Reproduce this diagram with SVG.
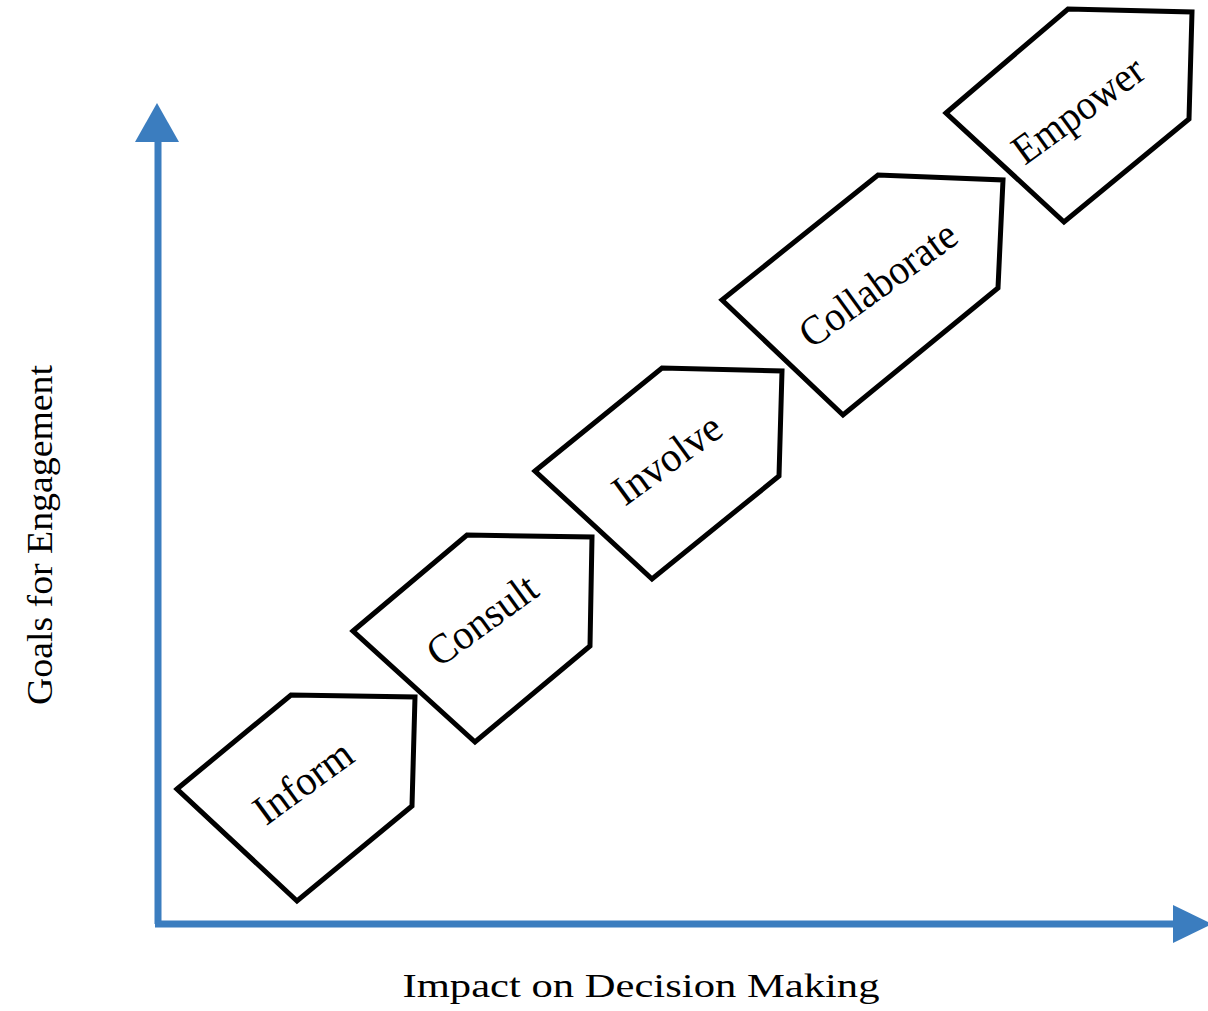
<svg xmlns="http://www.w3.org/2000/svg" width="1208" height="1011" viewBox="0 0 1208 1011">
<style>
.stage{fill:#fff;stroke:#000;stroke-width:5;stroke-linejoin:miter}
.lbl{font-family:"Liberation Serif","Times New Roman",serif;font-size:42px;fill:#000;text-anchor:middle;dominant-baseline:central}
.ax{stroke:#3b7dbf;stroke-width:7;fill:none}
.axt{font-family:"Liberation Serif","Times New Roman",serif;fill:#000;text-anchor:middle}
</style>
<rect width="1208" height="1011" fill="#fff"/>
<g id="axes">
<line class="ax" x1="158" y1="138" x2="158" y2="924"/>
<line class="ax" x1="155" y1="924" x2="1176" y2="924"/>
<polygon points="157,103 135,142 179,142" fill="#3b7dbf"/>
<polygon points="1212,924 1173,905 1173,943" fill="#3b7dbf"/>
</g>
<g id="inform">
<polygon class="stage" points="177,789 291,695 415,697 412,806 297,901"/>
<text class="lbl" transform="translate(303,782) rotate(-36)" textLength="112" lengthAdjust="spacingAndGlyphs">Inform</text>
</g>
<g id="consult">
<polygon class="stage" points="353,631 467,535 592,537 590,646 475,742"/>
<text class="lbl" transform="translate(482,620) rotate(-36)" textLength="126" lengthAdjust="spacingAndGlyphs">Consult</text>
</g>
<g id="involve">
<polygon class="stage" points="535,471 662,368 782,371 779,476 652,579"/>
<text class="lbl" transform="translate(667,459) rotate(-36)" textLength="124" lengthAdjust="spacingAndGlyphs">Involve</text>
</g>
<g id="collaborate">
<polygon class="stage" points="722,300 878,175 1003,180 998,288 843,415"/>
<text class="lbl" transform="translate(878,284) rotate(-36)" textLength="184" lengthAdjust="spacingAndGlyphs">Collaborate</text>
</g>
<g id="empower">
<polygon class="stage" points="946,113 1068,9 1192,12 1189,119 1064,222"/>
<text class="lbl" transform="translate(1078,110) rotate(-36)" textLength="152" lengthAdjust="spacingAndGlyphs">Empower</text>
</g>
<g id="labels">
<text class="axt" x="641" y="997" font-size="33" textLength="477" lengthAdjust="spacingAndGlyphs">Impact on Decision Making</text>
<text class="axt" transform="translate(52,535) rotate(-90)" font-size="36" textLength="340" lengthAdjust="spacingAndGlyphs">Goals for Engagement</text>
</g>
</svg>
